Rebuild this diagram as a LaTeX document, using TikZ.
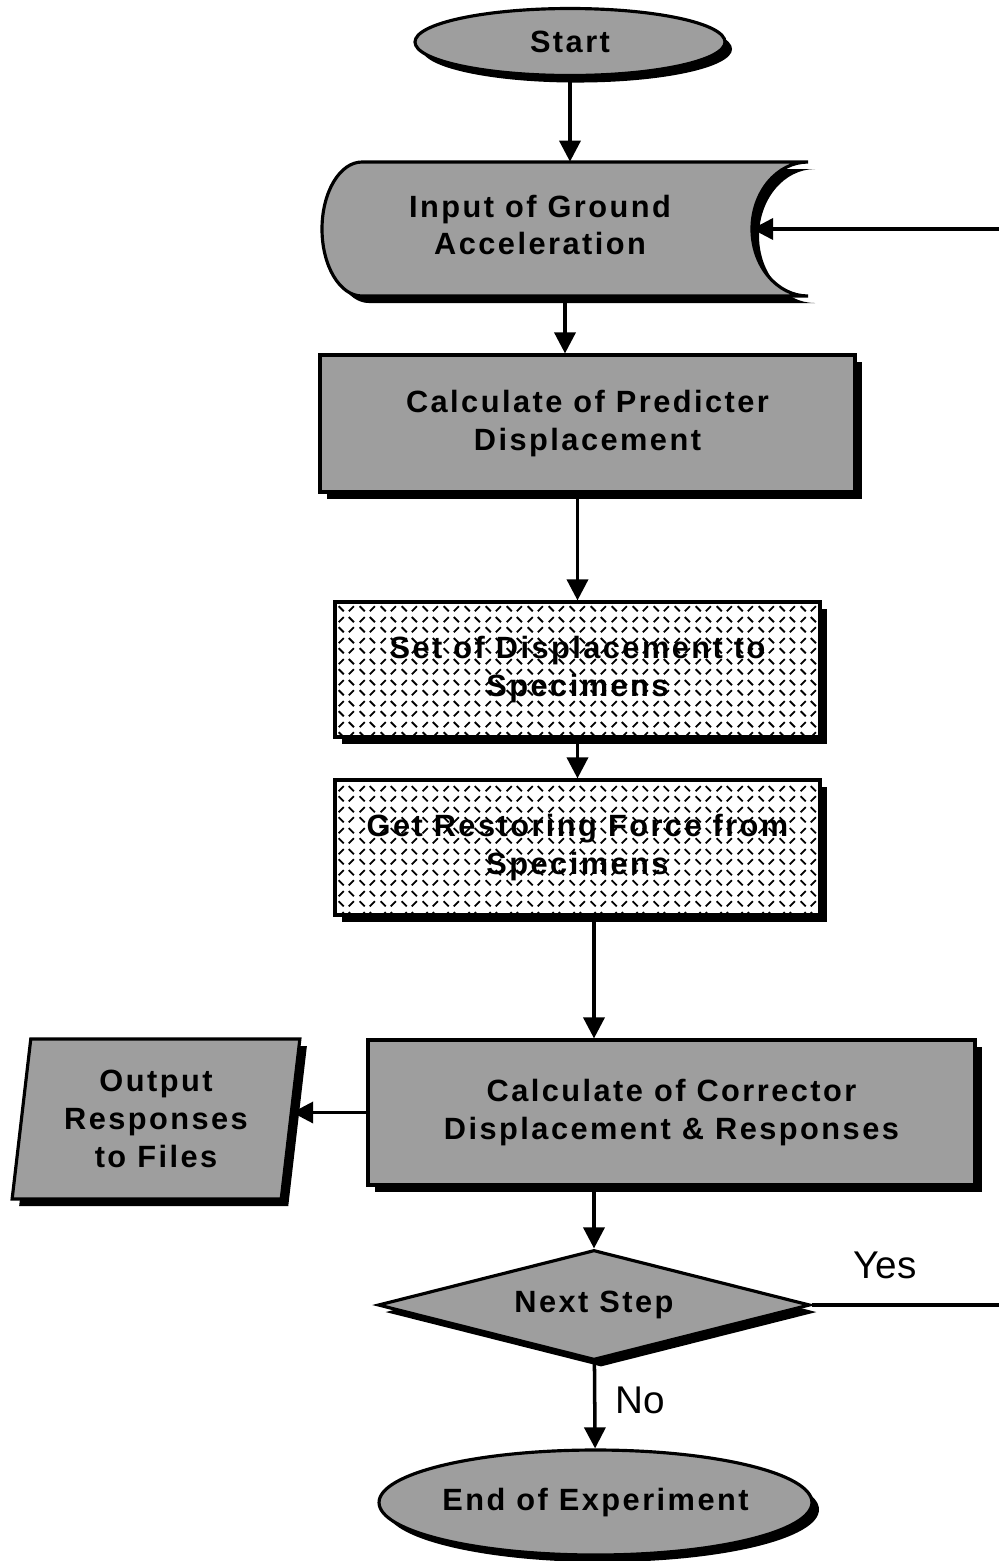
\documentclass[tikz,border=0pt]{standalone}
\usepackage{fontspec}
\usetikzlibrary{shapes.geometric,shadows,patterns,arrows.meta}

\setmainfont{Liberation Sans}
\newfontfamily\boxfont{Liberation Sans}[LetterSpace=8]

\pgfdeclarepatternformonly{treadplate}{\pgfqpoint{0pt}{0pt}}{\pgfqpoint{12pt}{12pt}}{\pgfqpoint{12pt}{12pt}}{
	\pgfsetlinewidth{1.1pt}
	\pgfpathmoveto{\pgfqpoint{1pt}{7pt}}\pgfpathlineto{\pgfqpoint{4pt}{10pt}}
	\pgfpathmoveto{\pgfqpoint{7pt}{10pt}}\pgfpathlineto{\pgfqpoint{10pt}{7pt}}
	\pgfpathmoveto{\pgfqpoint{1pt}{4pt}}\pgfpathlineto{\pgfqpoint{4pt}{1pt}}
	\pgfpathmoveto{\pgfqpoint{7pt}{1pt}}\pgfpathlineto{\pgfqpoint{10pt}{4pt}}
	\pgfusepath{stroke}
}

\begin{document}
\begin{tikzpicture}[
		every node/.style={font=\boxfont\bfseries\fontsize{17.5}{21.5}\selectfont, align=center},
		shade/.style={drop shadow={shadow xshift=4pt, shadow yshift=-4pt, fill=black, opacity=1}},
		dots/.style={shade, draw, line width=1.8pt, fill=black!38},
		tread/.style={shade, draw, line width=1.8pt, preaction={fill=white}, pattern=treadplate},
		flow/.style={line width=2pt, -{Triangle[length=12pt,width=12pt]}},
		lbl/.style={font=\fontsize{22}{26}\selectfont}
	]
			\useasboundingbox (0,0) rectangle (19.98,-31.22);

			\node[dots, ellipse, minimum width=6.2cm, minimum height=1.34cm, inner sep=0] (start) at (11.4,-0.84) {Start};

			\draw[dots] (7.24,-3.24) -- (16.16,-3.24)
				arc[start angle=90, end angle=270, x radius=1.12, y radius=1.34] -- (7.24,-5.92)
				arc[start angle=270, end angle=90, x radius=0.8, y radius=1.34] -- cycle;
			\node[minimum width=9.72cm, minimum height=2.68cm] (input) at (11.3,-4.58) {};
			\node (inputtext) at (10.8,-4.5) {Input of Ground\\Acceleration};
			\coordinate (fb) at (15.04,-4.58);

			\node[dots, minimum width=10.7cm, minimum height=2.74cm] (pred) at (11.75,-8.47)
				{Calculate of Predicter\\Displacement};
			\node[tread, minimum width=9.7cm, minimum height=2.7cm] (setdisp) at (11.55,-13.39)
				{Set of Displacement to\\Specimens};
			\node[tread, minimum width=9.7cm, minimum height=2.7cm] (getforce) at (11.55,-16.95)
				{Get Restoring Force from\\Specimens};
			\node[dots, minimum width=12.14cm, minimum height=2.9cm] (corr) at (13.43,-22.25)
				{Calculate of Corrector\\Displacement \& Responses};
			\node[dots, trapezium, trapezium left angle=82, trapezium right angle=98, trapezium stretches=true,
				minimum width=5.76cm, minimum height=3.2cm, inner sep=0] (out) at (3.12,-22.38)
				{Output\\Responses\\to Files};
			\node[dots, diamond, aspect=3.9, minimum width=8.64cm, minimum height=2.2cm, inner sep=0] (next) at (11.88,-26.1) {Next Step};
			\node[dots, ellipse, minimum width=8.5cm, minimum height=2.1cm, inner sep=0] (finish) at (11.91,-30.05) {End of Experiment};
			\coordinate (back) at (20.4,-26.1);

			\node[lbl] (yes) at (17.7,-25.3) {Yes};
			\node[lbl] (no) at (12.8,-28) {No};

			\draw[flow] (start) -- (start |- input.north);
			\draw[flow] (input.south) -- (input.south |- pred.north);
			\draw[flow] (setdisp.north |- pred.south) -- (setdisp.north);
			\draw[flow] (setdisp) -- (getforce);
			\draw[flow] (next.north |- getforce.south) -- (next.north |- corr.north);
			\draw[flow] (corr.west) -- (out.east |- corr.west);
			\draw[flow] (next.north |- corr.south) -- (next.north);
			\draw[flow] (next) -- (finish);
			\draw[flow] (next.east) -- (back) |- (fb);
		\end{tikzpicture}
\end{document}
